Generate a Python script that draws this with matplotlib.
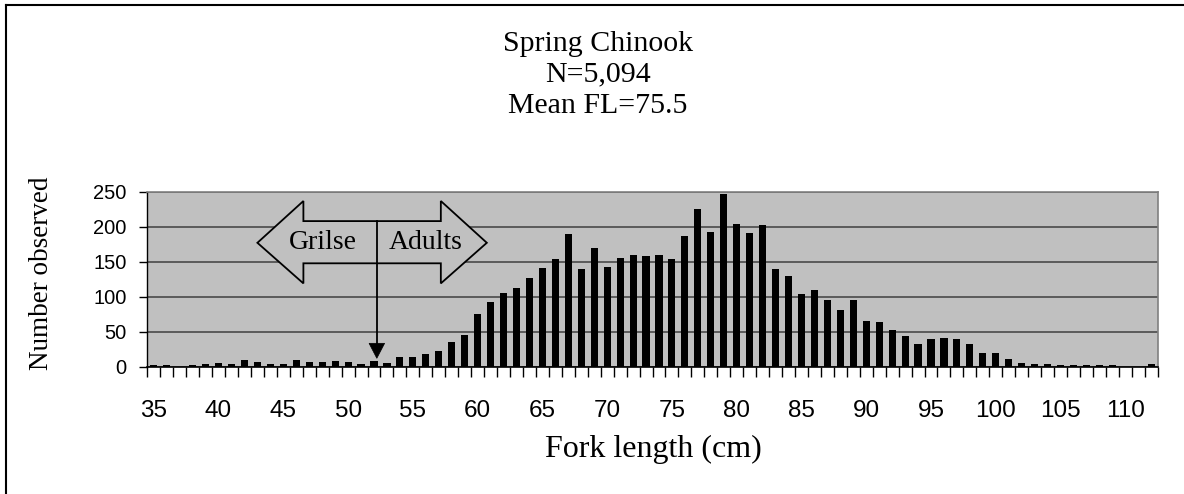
import matplotlib
matplotlib.use("Agg")
import matplotlib.pyplot as plt
from matplotlib.patches import Polygon
from matplotlib.lines import Line2D

# Fork length classes (cm) and fish counted in each class
fork_length = list(range(35, 113))
counts = [
    2, 2, 0, 2, 4, 5, 4, 10, 7, 4,          # 35-44
    4, 10, 7, 7, 8, 7, 4, 8, 5, 14,         # 45-54
    14, 18, 23, 35, 46, 76, 92, 106, 112, 127,  # 55-64
    141, 154, 190, 140, 170, 142, 155, 159, 158, 160,  # 65-74
    154, 186, 225, 192, 247, 204, 191, 203, 140, 130,  # 75-84
    104, 110, 96, 81, 95, 65, 64, 53, 44, 32,  # 85-94
    39, 41, 39, 32, 20, 19, 11, 5, 4, 4,    # 95-104
    2, 2, 2, 2, 2, 0, 0, 4,                 # 105-112
]
x_tick_labels = list(range(35, 111, 5))
y_ticks = [0, 50, 100, 150, 200, 250]

title_lines = ["Spring Chinook", "N=5,094", "Mean FL=75.5"]

SERIF = ["Liberation Serif", "DejaVu Serif"]
SANS = ["Liberation Sans", "DejaVu Sans"]

W, H = 1184, 494
fig = plt.figure(figsize=(W / 100, H / 100), dpi=100)
fig.patch.set_facecolor("white")

ax = fig.add_axes([147.3 / W, 1 - 366.7 / H, (1157.7 - 147.3) / W, (366.7 - 191.7) / H])
ax.set_facecolor("#c0c0c0")

ax.bar(fork_length, counts, width=0.55, color="black", zorder=3)

ax.set_xlim(fork_length[0] - 0.5, fork_length[-1] + 0.5)
ax.set_ylim(0, 250)

# horizontal gridlines
ax.set_yticks(y_ticks)
ax.yaxis.grid(True, color="#404040", linewidth=1.1, zorder=1)
ax.set_axisbelow(True)

# x: labels every 5 cm, tick marks between classes
ax.set_xticks(x_tick_labels)
ax.set_xticklabels([str(v) for v in x_tick_labels], fontfamily=SANS, fontsize=17.5)
ax.set_xticks([v - 0.5 for v in fork_length] + [fork_length[-1] + 0.5], minor=True)
ax.tick_params(axis="x", which="major", length=0, pad=24)
ax.tick_params(axis="x", which="minor", length=7.5, width=1.0, color="black", direction="out")

ax.set_yticklabels([str(v) for v in y_ticks], fontfamily=SANS, fontsize=14.5)
ax.tick_params(axis="y", which="major", length=6, width=1.0, color="black", pad=9)

for side in ("top", "right"):
    ax.spines[side].set_color("#808080")
    ax.spines[side].set_linewidth(1.2)
ax.spines["left"].set_color("black")
ax.spines["bottom"].set_color("black")
ax.spines["left"].set_linewidth(1.0)
ax.spines["bottom"].set_linewidth(1.2)

# double-headed block arrow separating grilse from adults
arrow_pts = [
    (43.0, 177), (46.55, 236.7), (46.55, 208), (57.16, 208), (57.16, 236.7),
    (60.71, 177), (57.16, 119), (57.16, 147.7), (46.55, 147.7), (46.55, 119),
]
ax.add_patch(Polygon(arrow_pts, closed=True, facecolor="#c0c0c0",
                     edgecolor="black", linewidth=1.3, zorder=4))
ax.text(48.03, 177, "Grilse", ha="center", va="center", fontfamily=SERIF,
        fontsize=20, zorder=5)
ax.text(56.0, 177, "Adults", ha="center", va="center", fontfamily=SERIF,
        fontsize=20, zorder=5)

# divider arrow pointing down to the 52 cm class
ax.add_line(Line2D([52.22, 52.22], [208, 33], color="black", linewidth=1.3, zorder=5))
ax.add_patch(Polygon([(51.62, 33.4), (52.82, 33.4), (52.22, 12)], closed=True,
                     facecolor="black", edgecolor="black", linewidth=0.5, zorder=5))

# titles and axis labels
baselines = [50.7, 81.7, 112.7]
for line, yb in zip(title_lines, baselines):
    fig.text(598 / W, 1 - yb / H, line, ha="center", va="baseline",
             fontfamily=SERIF, fontsize=21.5)

fig.text(41.7 / W, 1 - 273 / H, "Number observed", rotation=90, ha="center",
         va="center", fontfamily=SERIF, fontsize=19.5)
fig.text(653 / W, 1 - 449 / H, "Fork length (cm)", ha="center", va="center",
         fontfamily=SERIF, fontsize=23)

# chart frame
fig.add_artist(Line2D([6 / W, 1], [1 - 5 / H, 1 - 5 / H], transform=fig.transFigure,
                      color="black", linewidth=1.5))
fig.add_artist(Line2D([6 / W, 6 / W], [0, 1 - 5 / H], transform=fig.transFigure,
                      color="black", linewidth=1.5))

fig.savefig("out.png", dpi=100, facecolor="white")
